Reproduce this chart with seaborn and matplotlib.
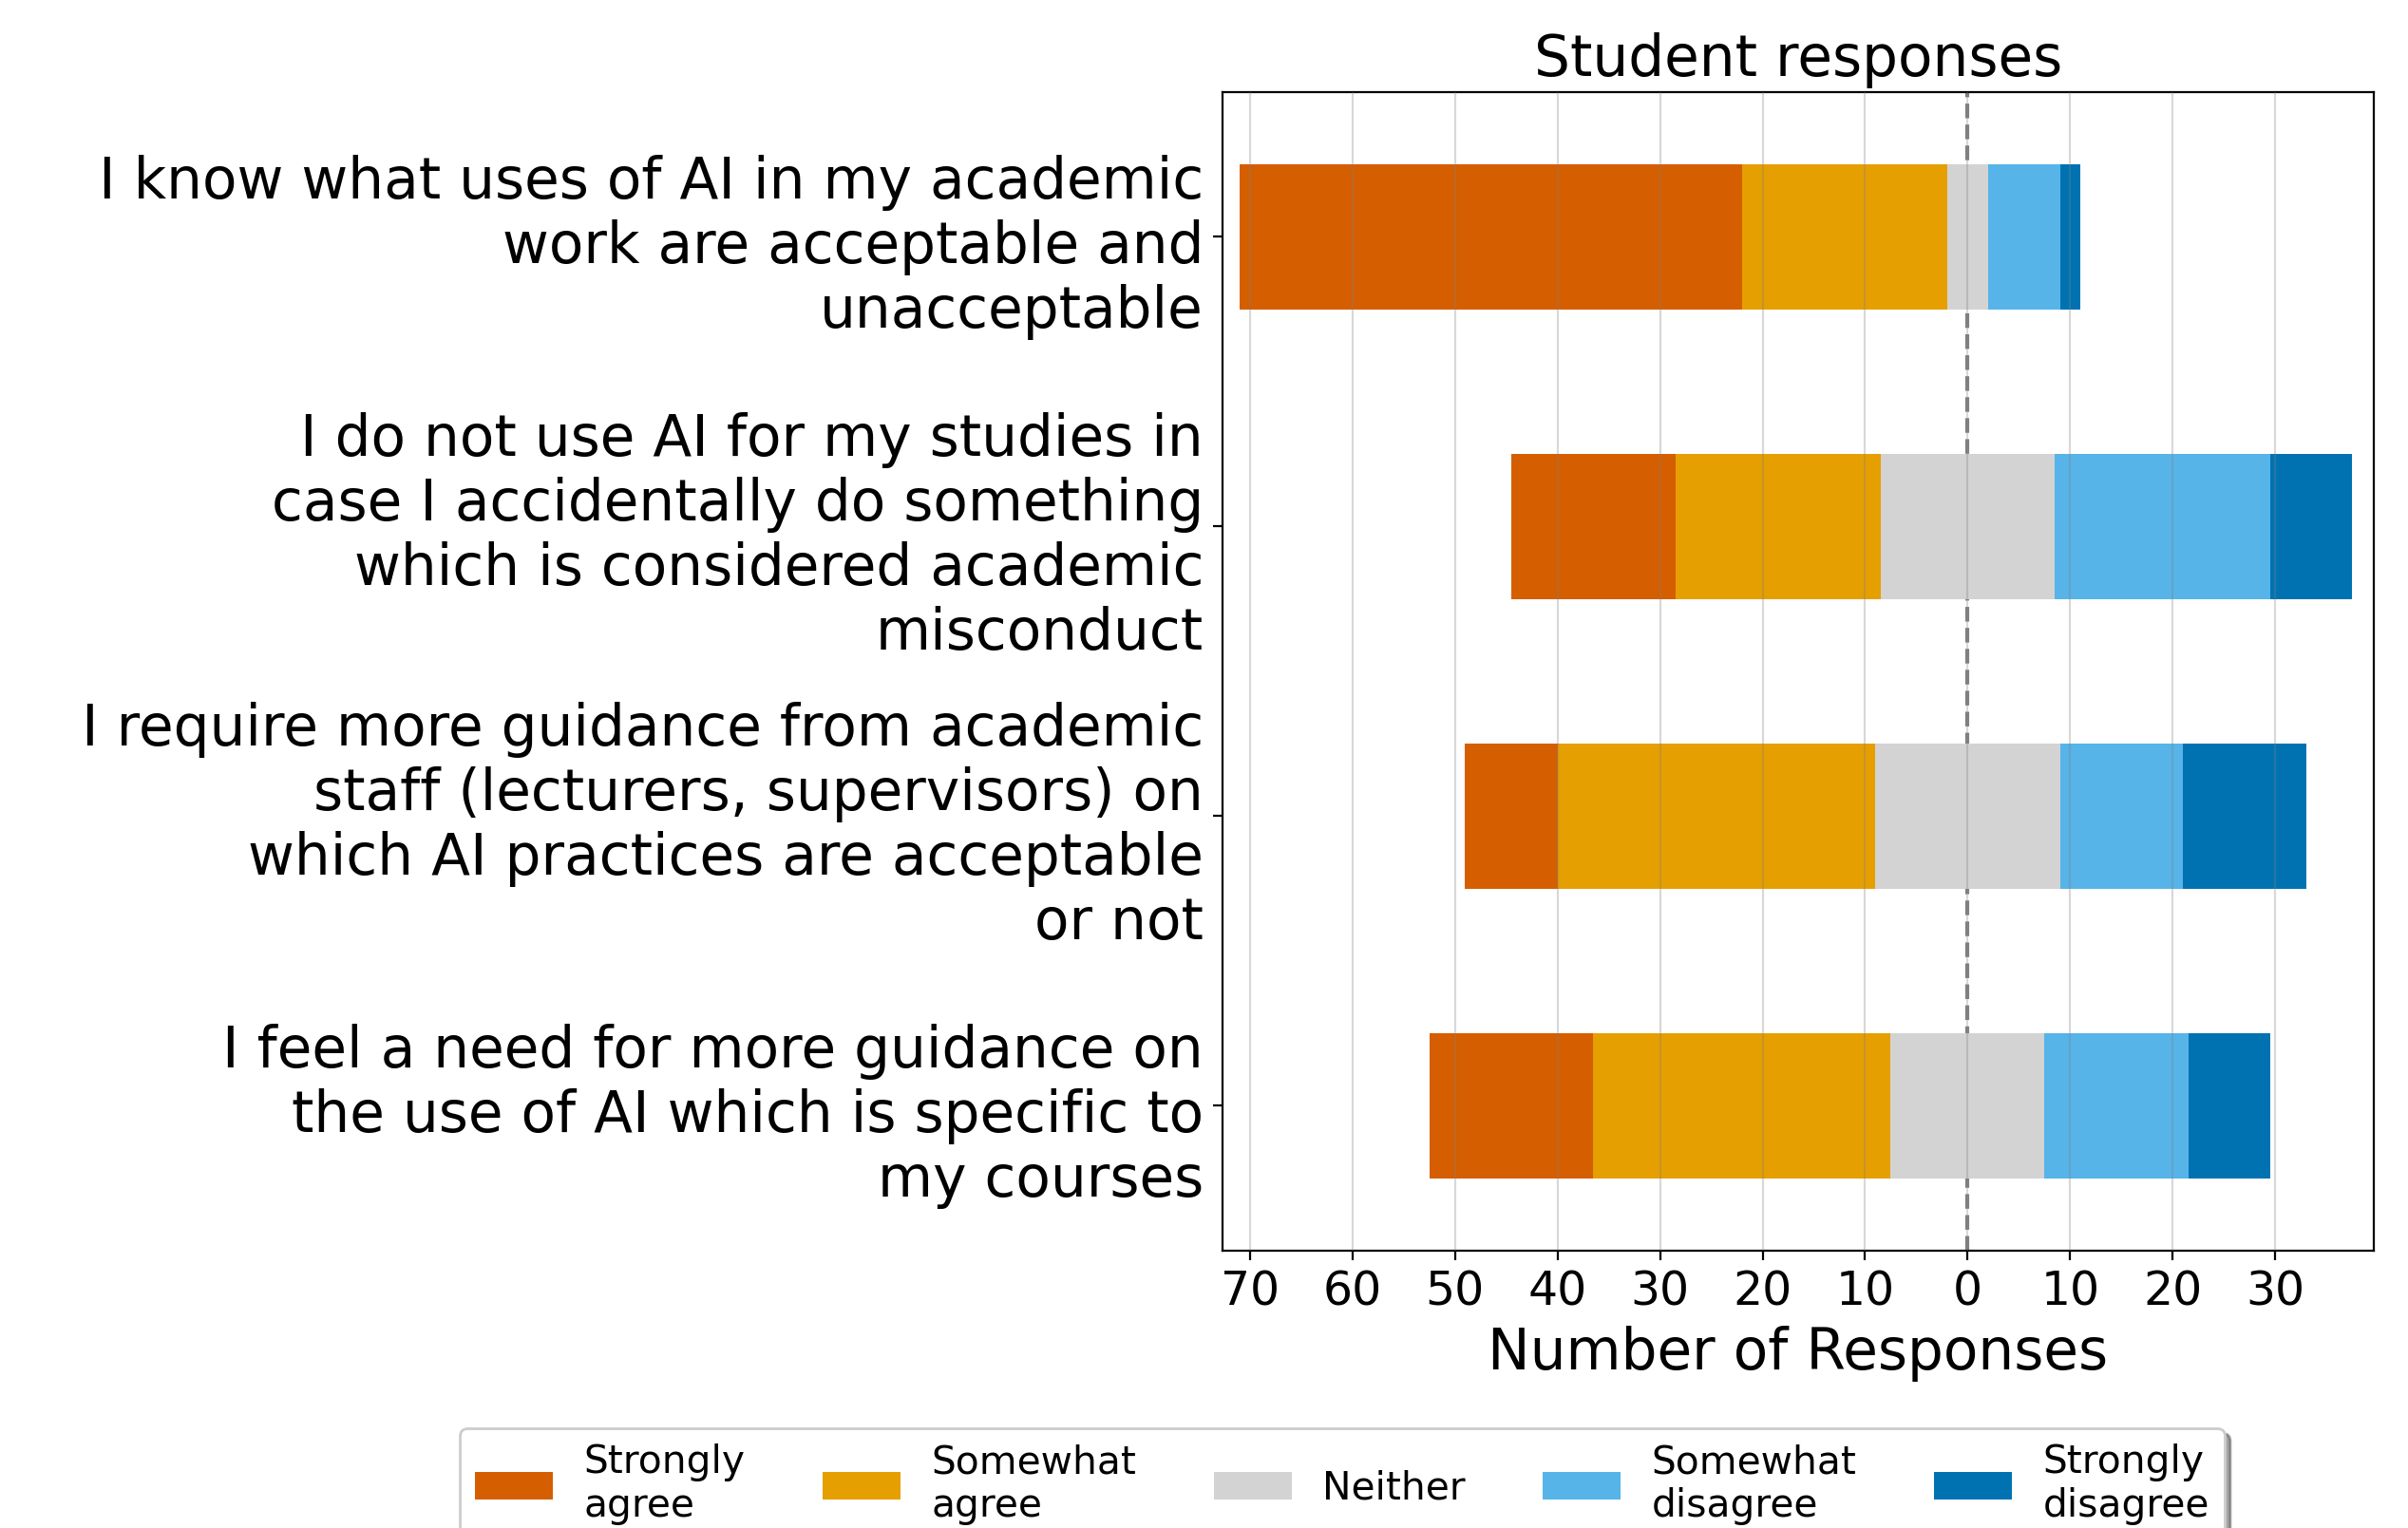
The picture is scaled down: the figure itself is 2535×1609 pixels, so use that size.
import numpy as np
import pandas as pd
import matplotlib
matplotlib.use("Agg")
import matplotlib.pyplot as plt
import seaborn as sns

# Survey statements (wrapped as in the original figure)
QUESTIONS = [
    "I know what uses of AI in my academic\nwork are acceptable and\nunacceptable",
    "I do not use AI for my studies in\ncase I accidentally do something\nwhich is considered academic\nmisconduct",
    "I require more guidance from academic\nstaff (lecturers, supervisors) on\nwhich AI practices are acceptable\nor not",
    "I feel a need for more guidance on\nthe use of AI which is specific to\nmy courses",
]

# Response counts per statement
strongly_agree = [49, 16, 9, 16]
somewhat_agree = [20, 20, 31, 29]
neither = [4, 17, 18, 15]
somewhat_disagree = [7, 21, 12, 14]
strongly_disagree = [2, 8, 12, 8]

LEVELS = ["Strongly\nagree", "Somewhat\nagree", "Neither", "Somewhat\ndisagree", "Strongly\ndisagree"]
COLORS = ["#D55E00", "#E69F00", "#D3D3D3", "#56B4E9", "#0072B2"]

df = pd.DataFrame({
    "question": QUESTIONS,
    "sa": strongly_agree,
    "swa": somewhat_agree,
    "n": neither,
    "swd": somewhat_disagree,
    "sd": strongly_disagree,
})

# Diverging positions: neutral split evenly around zero
half = df["n"] / 2
df["left_sa"] = -(df["sa"] + df["swa"] + half)
df["left_swa"] = -(df["swa"] + half)
df["left_n"] = -half
df["right_n"] = half
df["right_swd"] = half + df["swd"]
df["right_sd"] = half + df["swd"] + df["sd"]

fig = plt.figure(figsize=(12.675, 8.045), dpi=200)
ax = fig.add_axes([0.5075, 0.1815, 0.4783, 0.7584])

# draw outermost segments first, inner ones on top
layers = [
    ("left_sa", COLORS[0], LEVELS[0]),
    ("left_swa", COLORS[1], LEVELS[1]),
    ("left_n", COLORS[2], LEVELS[2]),
    ("right_sd", COLORS[4], LEVELS[4]),
    ("right_swd", COLORS[3], LEVELS[3]),
    ("right_n", COLORS[2], None),
]
for col, color, label in layers:
    sns.barplot(data=df, x=col, y="question", orient="h", color=color,
                saturation=1, width=0.5, linewidth=0, label=label, ax=ax)

if ax.get_legend() is not None:
    ax.get_legend().remove()

ax.axvline(0, color="gray", linestyle="--", linewidth=1.5, zorder=0.5)
ax.set_axisbelow(False)
ax.grid(axis="x", color="gray", alpha=0.3, linewidth=0.8)

ax.set_xlim(-72.7, 39.6)
ticks = np.arange(-70, 40, 10)
ax.set_xticks(ticks)
ax.set_xticklabels([str(abs(t)) for t in ticks], fontsize=17.6)
ax.tick_params(axis="y", labelsize=21.5)
ax.set_xlabel("Number of Responses", fontsize=21.5)
ax.set_ylabel("")
ax.set_title("Student responses", fontsize=21.5)

handles, labels = ax.get_legend_handles_labels()
order = [labels.index(l) for l in LEVELS]
fig.legend([handles[i] for i in order], [labels[i] for i in order],
           loc="upper center", bbox_to_anchor=(0.5574, 0.0653), ncol=5,
           fontsize=14.7, shadow=True, borderaxespad=0, frameon=True)

fig.savefig("out.png", dpi=200)
